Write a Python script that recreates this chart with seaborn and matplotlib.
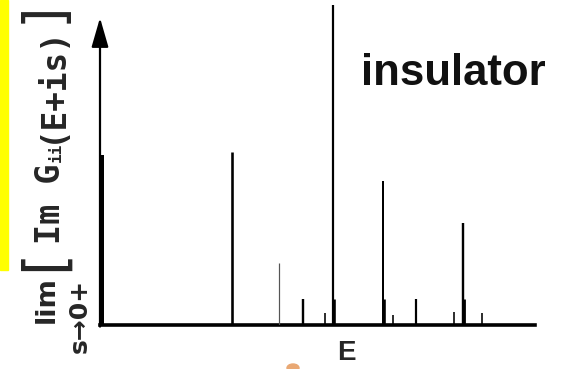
import matplotlib
matplotlib.use("Agg")
import numpy as np
import seaborn as sns
from matplotlib import pyplot as plt
from matplotlib.patches import Rectangle, Ellipse

# spike positions (arbitrary energy units, 0..100) and heights (fraction of axis)
energy = [0.5, 30.3, 41.1, 46.7, 51.7, 53.6, 53.9, 65.1, 65.4, 67.4, 72.6, 81.4, 83.4, 83.7, 87.8]
weight = [0.53, 0.54, 0.194, 0.081, 0.038, 1.0, 0.08, 0.45, 0.08, 0.031, 0.081, 0.041, 0.319, 0.08, 0.038]
line_px = [4, 2.6, 1.2, 2.4, 1.6, 2.2, 2.6, 2.0, 2.6, 1.6, 2.2, 1.6, 2.4, 2.8, 1.6]
line_col = ["black", "black", "#555555", "black", "black", "black", "black", "black",
            "black", "black", "black", "black", "black", "black", "black"]

W, H = 565, 369
sns.set_style("white")
plt.rcParams["font.family"] = ["DejaVu Sans"]

def fx(x):
    return x / W

def fy(y):
    return 1 - y / H

fig = plt.figure(figsize=(W / 100, H / 100), dpi=100)
ax = fig.add_axes([fx(100), fy(325), 435 / W, 320 / H])
ax.set_xlim(0, 100)
ax.set_ylim(0, 1)

ax.vlines(energy, 0, weight, colors=line_col,
          linewidths=[p * 0.72 for p in line_px], zorder=3)

sns.despine(ax=ax, left=True)
ax.spines["bottom"].set_linewidth(2.6)
ax.spines["bottom"].set_color("black")
ax.set_xticks([])
ax.set_yticks([])

# y axis arrow
ax.annotate("", xy=(0, 0.96), xytext=(0, -0.005), xycoords="axes fraction",
            arrowprops=dict(arrowstyle="-|>,head_length=18,head_width=5.2",
                            mutation_scale=1, lw=1.6, color="black",
                            shrinkA=0, shrinkB=0))

# labels
fig.text(fx(346), fy(353), "E", fontsize=20, fontweight="bold",
         family="Liberation Sans", ha="center", va="center")
fig.text(fx(361), fy(85), "insulator", fontsize=31.5, fontweight="bold",
         family="Liberation Sans", color="#111111", ha="left", va="baseline")

mono = "DejaVu Sans Mono"
fig.text(fx(47), fy(323), "lim", rotation=90, fontsize=19.5, fontweight="bold",
         ha="center", va="bottom")
fig.text(fx(80), fy(353), "s→0+", rotation=90, fontsize=18, fontweight="bold",
         ha="center", va="bottom")
fig.text(fx(44), fy(260), "[", rotation=90, fontsize=41, family="DejaVu Sans",
         ha="center", va="center")
fig.text(fx(51), fy(244), "Im G", rotation=90, fontsize=24, fontweight="bold",
         family=mono, ha="center", va="bottom")
fig.text(fx(56), fy(162), "ii", rotation=90, fontsize=11.5, fontweight="bold",
         family=mono, ha="center", va="bottom")
fig.text(fx(51), fy(143), "(E+is)", rotation=90, fontsize=23.5, fontweight="bold",
         family=mono, ha="center", va="bottom")
fig.text(fx(44), fy(12), "]", rotation=90, fontsize=40, family="DejaVu Sans",
         ha="center", va="center")

# yellow margin bar and small orange blot
fig.patches.append(Rectangle((0, fy(270)), fx(8), 270 / H, transform=fig.transFigure,
                             color="#ffff00", zorder=0))
fig.patches.append(Ellipse((fx(293), fy(368)), 12 / W, 8 / H, transform=fig.transFigure,
                           color="#e9a874", zorder=0))

fig.savefig("out.png", dpi=100)
